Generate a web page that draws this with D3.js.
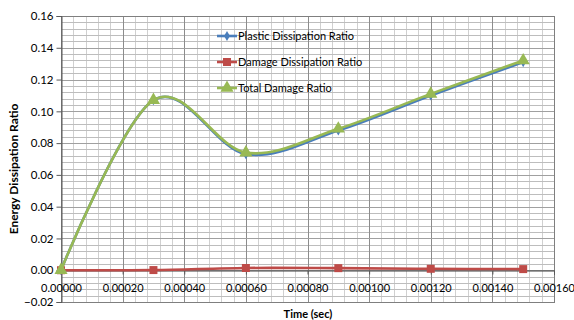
<!DOCTYPE html>
<html>
<head>
<meta charset="utf-8">
<script src="https://cdn.jsdelivr.net/npm/d3@7"></script>
<style>
  body { margin: 0; background: #fff; }
  text { font-family: Lato, "Liberation Sans", sans-serif; fill: #000; }
</style>
</head>
<body>
<svg id="chart" width="574" height="320"></svg>
<script>
const margin = { top: 16, right: 20, bottom: 18, left: 61 };
const width = 554 - margin.left;
const height = 302 - margin.top;

// data
var times = [0, 0.0003, 0.0006, 0.0009, 0.0012, 0.0015]
var plastic = [0, 0.107, 0.073, 0.088, 0.110, 0.131]
var damage = [0, 0.0001, 0.0014, 0.0013, 0.0009, 0.0007]
var total = [0, 0.107, 0.074, 0.089, 0.111, 0.132]
var seriesNames = ['Plastic Dissipation Ratio', 'Damage Dissipation Ratio', 'Total Damage Ratio']
var xTicks = [0, 0.0002, 0.0004, 0.0006, 0.0008, 0.001, 0.0012, 0.0014, 0.0016]
var yTicks = [-0.02, 0, 0.02, 0.04, 0.06, 0.08, 0.10, 0.12, 0.14, 0.16]

var colors = ['#4a7ebb', '#be4b48', '#98b954']
var symbols = [d3.symbolDiamond, d3.symbolSquare, d3.symbolTriangle]
var symbolSizes = [30, 64, 75]

var svg = d3.select('#chart')
var g = svg.append('g').attr('transform', 'translate(' + margin.left + ',' + margin.top + ')')

var xScale = d3.scaleLinear().domain([0, 0.0016]).range([0, width])
var yScale = d3.scaleLinear().domain([-0.02, 0.16]).range([height, 0])

// minor grid
var xMinor = d3.range(0, 41).map(i => i * 0.00004)
var yMinor = d3.range(0, 46).map(i => -0.02 + i * 0.004)

g.selectAll('.vminor').data(xMinor).join('line')
    .attr('x1', d => Math.round(xScale(d)) + 0.5).attr('x2', d => Math.round(xScale(d)) + 0.5)
    .attr('y1', 0).attr('y2', height)
    .attr('stroke', '#d0d0d0')
g.selectAll('.hminor').data(yMinor).join('line')
    .attr('y1', d => Math.round(yScale(d)) + 0.5).attr('y2', d => Math.round(yScale(d)) + 0.5)
    .attr('x1', 0).attr('x2', width)
    .attr('stroke', '#bdbdbd')

// major grid
g.selectAll('.vmajor').data(xTicks).join('line')
    .attr('x1', d => Math.round(xScale(d)) + 0.5).attr('x2', d => Math.round(xScale(d)) + 0.5)
    .attr('y1', 0).attr('y2', height)
    .attr('stroke', '#8c8c8c')
g.selectAll('.hmajor').data(yTicks).join('line')
    .attr('y1', d => Math.round(yScale(d)) + 0.5).attr('y2', d => Math.round(yScale(d)) + 0.5)
    .attr('x1', 0).attr('x2', width)
    .attr('stroke', '#a0a0a0')

// plot border
g.append('rect')
    .attr('x', 0.5).attr('y', 0.5)
    .attr('width', width).attr('height', height)
    .attr('fill', 'none').attr('stroke', '#7f7f7f')

// y axis
const yAxis = d3.axisLeft(yScale).tickValues(yTicks).tickSize(5).tickFormat(d3.format('.2f'))
var yG = g.append('g').attr('transform', 'translate(0.5,0)').call(yAxis)
yG.select('.domain').attr('stroke', '#595959')
yG.selectAll('.tick line').attr('stroke', '#595959')
yG.selectAll('text').attr('font-size', 11.5).attr('font-family', 'Lato').attr('x', -8)

// x axis at zero
const xAxis = d3.axisBottom(xScale).tickValues(xTicks).tickSize(4).tickFormat(d3.format('.5f'))
var xG = g.append('g').attr('transform', 'translate(0,' + (Math.round(yScale(0)) + 0.5) + ')').call(xAxis)
xG.select('.domain').attr('stroke', '#404040')
xG.selectAll('.tick line').attr('stroke', '#595959')
xG.selectAll('text').attr('font-size', 11).attr('font-family', 'Lato').attr('dy', '0').attr('y', 21)

// series
var allSeries = [plastic, damage, total]
var line = d3.line()
    .x((d, i) => xScale(times[i]))
    .y(d => yScale(d))
    .curve(d3.curveCardinal.tension(0))

allSeries.forEach(function (vals, k) {
    g.append('path')
        .datum(vals)
        .attr('d', line)
        .attr('fill', 'none')
        .attr('stroke', colors[k])
        .attr('stroke-width', 2.6)
    g.selectAll('.m' + k).data(vals).join('path')
        .attr('transform', (d, i) => 'translate(' + xScale(times[i]) + ',' + yScale(d) + ')')
        .attr('d', d3.symbol().type(symbols[k]).size(symbolSizes[k]))
        .attr('fill', colors[k])
})

// legend
var legend = svg.append('g').attr('transform', 'translate(217,36)')
seriesNames.forEach(function (name, k) {
    var row = legend.append('g').attr('transform', 'translate(0,' + (k * 26) + ')')
    row.append('line').attr('x1', 0).attr('x2', 20).attr('y1', 0).attr('y2', 0)
        .attr('stroke', colors[k]).attr('stroke-width', 2.6)
    row.append('path').attr('transform', 'translate(10,0)')
        .attr('d', d3.symbol().type(symbols[k]).size(symbolSizes[k]))
        .attr('fill', colors[k])
    row.append('text').attr('x', 21).attr('y', 4).attr('font-size', 11).text(name)
})

// axis titles
svg.append('text')
    .attr('x', 308).attr('y', 318)
    .attr('text-anchor', 'middle')
    .attr('font-size', 11).attr('font-weight', 'bold')
    .text('Time (sec)')

svg.append('text')
    .attr('transform', 'translate(18,169) rotate(-90)')
    .attr('text-anchor', 'middle')
    .attr('font-size', 12).attr('font-weight', 'bold')
    .text('Energy Dissipation Ratio')
</script>
</body>
</html>
